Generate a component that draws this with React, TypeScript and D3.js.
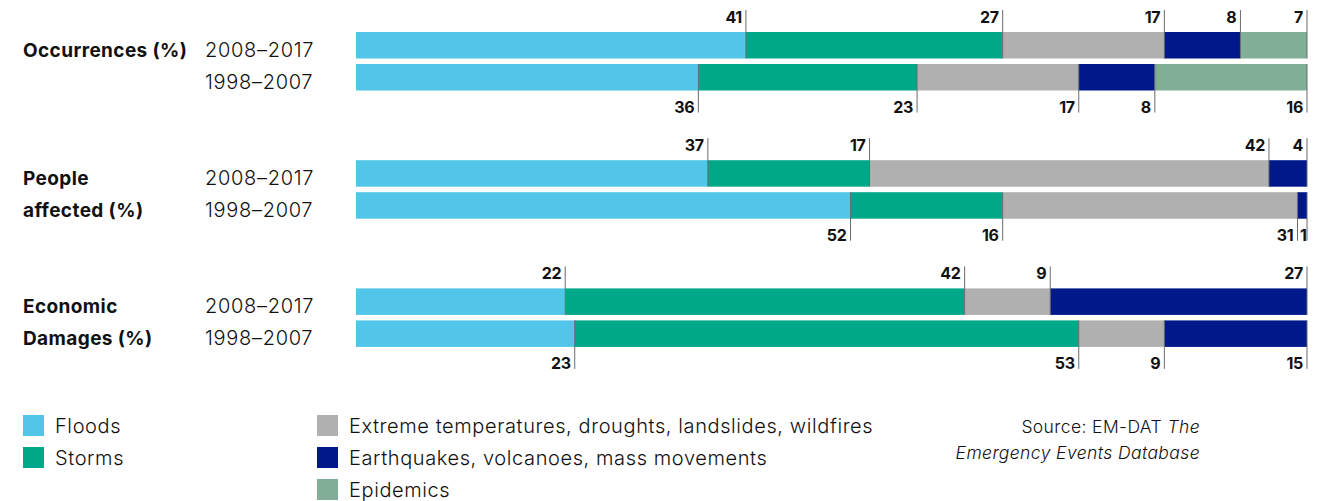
import * as d3 from "d3";

const categories = [
  "Floods",
  "Storms",
  "Extreme temperatures, droughts, landslides, wildfires",
  "Earthquakes, volcanoes, mass movements",
  "Epidemics",
];
const colors = ["#52c6e8", "#00a88a", "#afb0af", "#00188a", "#82ad97"];

const groups = ["Occurrences (%)", "People affected (%)", "Economic Damages (%)"];
const groupLines = [["Occurrences (%)"], ["People", "affected (%)"], ["Economic", "Damages (%)"]];
const periods = ["2008–2017", "1998–2007"];

const occurrences2008 = [41, 27, 17, 8, 7];
const occurrences1998 = [36, 23, 17, 8, 16];
const people2008 = [37, 17, 42, 4, 0];
const people1998 = [52, 16, 31, 1, 0];
const damages2008 = [22, 42, 9, 27, 0];
const damages1998 = [23, 53, 9, 15, 0];

const values = [
  [occurrences2008, occurrences1998],
  [people2008, people1998],
  [damages2008, damages1998],
];

const W = 1325;
const H = 501;
const FONT = "Inter, 'Noto Sans', sans-serif";
const INK = "#111";

export default function App() {
  const x = d3.scaleLinear().domain([0, 100]).range([356, 1307]);
  const gy = d3.scaleBand<string>().domain(groups).range([32, 32 + 3 * 128.2]).paddingInner(0);
  const py = d3.scaleBand<string>().domain(periods).range([0, 58.5]).paddingInner(0.172).paddingOuter(0);
  const bh = py.bandwidth();

  return (
    <svg width={W} height={H} style={{ position: "absolute", left: 0, top: 0, background: "#fff" }}>
      {groups.map((g, gi) => {
        const g0 = gy(g) ?? 0;
        return (
          <g key={g}>
            {groupLines[gi].map((line, li) => (
              <text
                key={line}
                x={23}
                y={g0 + (py(periods[li]) ?? 0) + 25}
                fontFamily={FONT}
                fontWeight={700}
                fontSize={19}
                letterSpacing={0.4}
                fill={INK}
              >
                {line}
              </text>
            ))}
            {periods.map((p, pi) => {
              const top = g0 + (py(p) ?? 0);
              const vals = values[gi][pi];
              const ends = Array.from(d3.cumsum(vals));
              const above = pi === 0;
              return (
                <g key={p}>
                  <text
                    x={205}
                    y={top + 25}
                    fontFamily={FONT}
                    fontWeight={300}
                    fontSize={20}
                    letterSpacing={0.7}
                    fill={INK}
                  >
                    {p}
                  </text>
                  {vals.map((v, ci) =>
                    v > 0 ? (
                      <rect
                        key={ci}
                        x={x(ends[ci] - v)}
                        y={top}
                        width={x(ends[ci]) - x(ends[ci] - v)}
                        height={bh}
                        fill={colors[ci]}
                      />
                    ) : null
                  )}
                  {vals.map((v, ci) => {
                    if (v <= 0) return null;
                    const xe = x(ends[ci]);
                    const segW = xe - x(ends[ci] - v);
                    // squeeze the label into very thin segments
                    const gap = segW < 14 ? 0.5 : 4;
                    const y1 = above ? top - 22 : top;
                    const y2 = above ? top + bh : top + bh + 22;
                    return (
                      <g key={"l" + ci}>
                        <line x1={xe} x2={xe} y1={y1} y2={y2} stroke="#6b6b6b" strokeWidth={1} />
                        <text
                          x={xe - gap}
                          y={above ? top - 9 : top + bh + 22}
                          textAnchor="end"
                          fontFamily={FONT}
                          fontWeight={700}
                          fontSize={16}
                          letterSpacing={-0.3}
                          fill={INK}
                        >
                          {v}
                        </text>
                      </g>
                    );
                  })}
                </g>
              );
            })}
          </g>
        );
      })}
      {categories.map((c, i) => {
        const col = i < 2 ? 0 : 1;
        const row = i < 2 ? i : i - 2;
        const lx = col === 0 ? 23 : 317;
        const ly = 415 + row * 32;
        return (
          <g key={c}>
            <rect x={lx} y={ly} width={21} height={21} fill={colors[i]} />
            <text
              x={lx + 32}
              y={ly + 18}
              fontFamily={FONT}
              fontWeight={300}
              fontSize={20}
              letterSpacing={0.6}
              fill={INK}
            >
              {c}
            </text>
          </g>
        );
      })}
      <text
        x={1200}
        y={433}
        textAnchor="end"
        fontFamily={FONT}
        fontWeight={300}
        fontSize={17.5}
        letterSpacing={0.4}
        fill={INK}
      >
        Source: EM-DAT <tspan fontStyle="italic">The</tspan>
      </text>
      <text
        x={1200}
        y={459}
        textAnchor="end"
        fontFamily={FONT}
        fontWeight={300}
        fontStyle="italic"
        fontSize={17.5}
        letterSpacing={0.4}
        fill={INK}
      >
        Emergency Events Database
      </text>
    </svg>
  );
}
